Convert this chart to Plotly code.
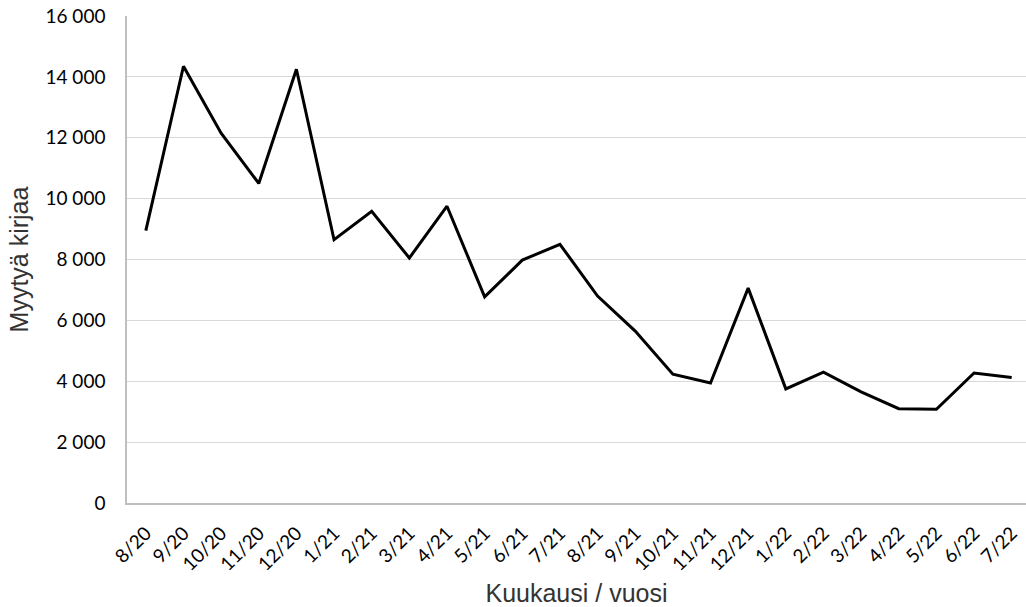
import plotly.graph_objects as go

months = ["8/20", "9/20", "10/20", "11/20", "12/20", "1/21", "2/21", "3/21", "4/21",
          "5/21", "6/21", "7/21", "8/21", "9/21", "10/21", "11/21", "12/21", "1/22",
          "2/22", "3/22", "4/22", "5/22", "6/22", "7/22"]
sold = [8950, 14350, 12150, 10500, 14250, 8650, 9580, 8050, 9750,
        6770, 7980, 8500, 6800, 5650, 4230, 3940, 7060, 3750,
        4300, 3650, 3100, 3080, 4270, 4120]
y_ticks = [0, 2000, 4000, 6000, 8000, 10000, 12000, 14000, 16000]
y_tick_text = ["0", "2 000", "4 000", "6 000", "8 000", "10 000", "12 000", "14 000", "16 000"]

fig = go.Figure(go.Scatter(x=months, y=sold, mode="lines",
                           line=dict(color="black", width=3)))

fig.update_layout(
    width=1026, height=607,
    margin=dict(l=127, r=0, t=16, b=104),
    plot_bgcolor="white", paper_bgcolor="white",
    showlegend=False,
    xaxis=dict(
        type="category", range=[-0.5, 23.38],
        tickangle=-45, tickfont=dict(family="Lato", size=19, color="black"),
        ticklabelstandoff=10,
        showgrid=False, showline=True, linecolor="#bfbfbf", linewidth=1.5,
        ticks="",
        title=dict(text="Kuukausi / vuosi",
                   font=dict(family="Liberation Sans", size=25, color="#333"), standoff=14),
    ),
    yaxis=dict(
        range=[0, 16000], tickvals=y_ticks, ticktext=y_tick_text,
        tickfont=dict(family="Lato", size=19, color="black"),
        ticklabelstandoff=16,
        showgrid=True, gridcolor="#d9d9d9", gridwidth=1,
        showline=True, linecolor="#bfbfbf", linewidth=1.5,
        zeroline=False, ticks="",
        title=dict(text="Myytyä kirjaa",
                   font=dict(family="Liberation Sans", size=25, color="#333"), standoff=10),
    ),
)

fig.write_html("out.html", config={"displayModeBar": False},
               post_script="document.body.style.margin='0';")
